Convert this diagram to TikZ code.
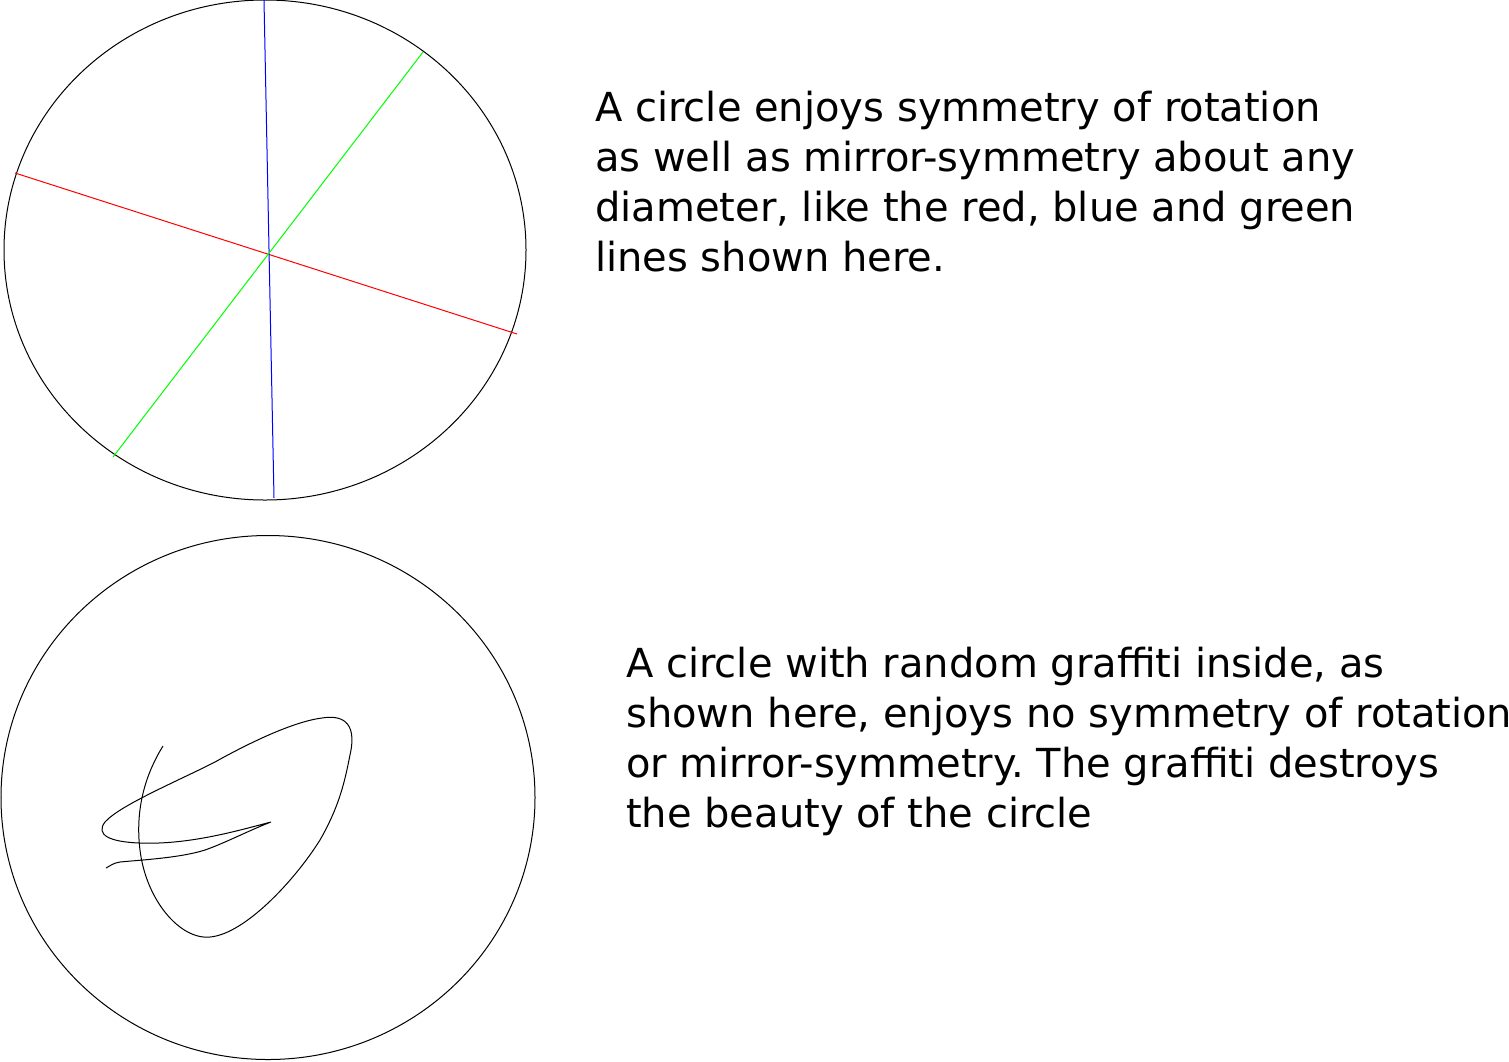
\documentclass[tikz,border=0pt]{standalone}
\usepackage{fontspec}
\setmainfont{DejaVu Sans}
\frenchspacing
\begin{document}
\begin{tikzpicture}[x=1pt,y=-1pt,
  outline/.style={draw=black,line width=1pt},
  diam/.style={line width=1pt},
  txt/.style={anchor=base west,inner sep=0pt,font=\fontsize{40}{50}\selectfont}]
\useasboundingbox[fill=white] (0,0) rectangle (1509,1061);
% top circle
\draw[outline] (265,250) ellipse [x radius=261, y radius=250];
\coordinate (r1) at (15,173); \coordinate (r2) at (517,334);
\coordinate (b1) at (264,0);  \coordinate (b2) at (274,498);
\coordinate (g1) at (423,52); \coordinate (g2) at (113,457);
\draw[diam,red] (r1) -- (r2);
\draw[diam,blue] (b1) -- (b2);
\draw[diam,green] (g1) -- (g2);
% bottom circle
\draw[outline] (268,797.5) ellipse [x radius=267, y radius=262];
% graffiti
\draw[line width=1pt] (163,746)
 .. controls (145,775) and (135,810) .. (140,850)
 .. controls (146,900) and (180,940) .. (210,937)
 .. controls (245,934) and (295,880) .. (320,840)
 .. controls (340,805) and (345,780) .. (350,755)
 .. controls (358,720) and (340,715) .. (322,718)
 .. controls (290,722) and (240,748) .. (215,762)
 .. controls (180,780) and (120,805) .. (105,822)
 .. controls (95,835) and (110,842) .. (140,843)
 .. controls (190,845) and (240,830) .. (271,822)
 .. controls (250,830) and (225,843) .. (205,850)
 .. controls (180,858) and (140,860) .. (120,862)
 .. controls (113,863) and (110,866) .. (106,868);
% texts
\node[txt] (ta1) at (595,121) {A circle enjoys symmetry of rotation};
\node[txt] (ta2) at (595,171) {as well as mirror-symmetry about any};
\node[txt] (ta3) at (595,221) {diameter, like the red, blue and green};
\node[txt] (ta4) at (595,271) {lines shown here.};
\node[txt] (tb1) at (626,677) {A circle with random graffiti inside, as};
\node[txt] (tb2) at (626,727) {shown here, enjoys no symmetry of rotation};
\node[txt] (tb3) at (626,777) {or mirror-symmetry. The graffiti destroys};
\node[txt] (tb4) at (626,827) {the beauty of the circle};
\end{tikzpicture}
\end{document}
